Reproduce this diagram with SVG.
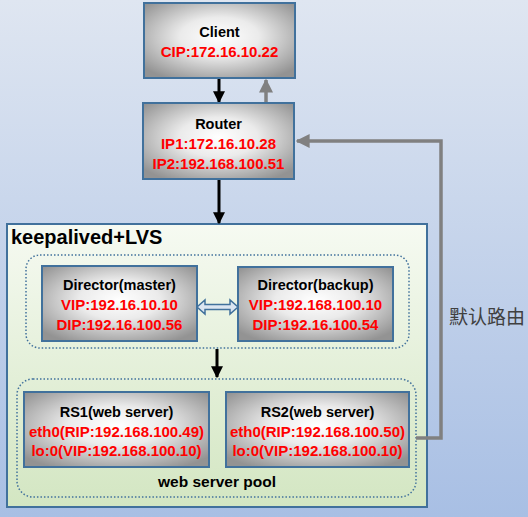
<svg xmlns="http://www.w3.org/2000/svg" width="528" height="517" viewBox="0 0 528 517">
<defs>
<linearGradient id="bg" x1="0" y1="0" x2="0" y2="1">
<stop offset="0" stop-color="#dfe6f1"/>
<stop offset="1" stop-color="#a8bfe4"/>
</linearGradient>
<linearGradient id="lvs" x1="0" y1="0" x2="0" y2="1">
<stop offset="0" stop-color="#f6faf2"/>
<stop offset="1" stop-color="#d3e6c2"/>
</linearGradient>
<radialGradient id="box" cx="50%" cy="45%" r="65%">
<stop offset="0" stop-color="#ffffff"/>
<stop offset="0.4" stop-color="#ebebeb"/>
<stop offset="1" stop-color="#939393"/>
</radialGradient>
<marker id="ab" viewBox="0 0 10 10" refX="9" refY="5" markerWidth="4" markerHeight="4" orient="auto" markerUnits="strokeWidth">
<path d="M0,0 L10,5 L0,10 z" fill="#000"/>
</marker>
<marker id="ag" viewBox="0 0 10 10" refX="9" refY="5" markerWidth="4" markerHeight="4" orient="auto" markerUnits="strokeWidth">
<path d="M0,0 L10,5 L0,10 z" fill="#808080"/>
</marker>
</defs>
<style>
.node{fill:url(#box);stroke:#41719c;stroke-width:2}
.t{font-family:"Liberation Sans",Arial,sans-serif;font-weight:bold;font-size:14.5px;text-anchor:middle;fill:#000}
.r{font-family:"Liberation Sans",Arial,sans-serif;font-weight:bold;font-size:15px;text-anchor:middle;fill:#ff0000}
.dot{fill:none;stroke:#41719c;stroke-width:1.5;stroke-dasharray:1.5 2}
.blk{stroke:#000;stroke-width:3;fill:none}
.gry{stroke:#808080;stroke-width:3.5;fill:none}
</style>
<rect x="0" y="0" width="528" height="517" fill="url(#bg)"/>

<g id="lvs-group">
<rect x="7" y="224" width="420" height="283" fill="url(#lvs)" stroke="#41719c" stroke-width="2"/>
<text x="11" y="244" font-family="'Liberation Sans',Arial,sans-serif" font-weight="bold" font-size="20" fill="#000">keepalived+LVS</text>
<rect class="dot" x="26" y="255" width="383" height="93" rx="14"/>
<rect class="dot" x="17" y="379" width="399" height="118" rx="16"/>
<text class="t" x="217" y="487" style="font-size:15.5px">web server pool</text>
</g>

<g id="connectors">
<line class="blk" x1="219" y1="79" x2="219" y2="102" marker-end="url(#ab)"/>
<line class="gry" x1="266" y1="103" x2="266" y2="80" marker-end="url(#ag)"/>
<line class="blk" x1="219" y1="180" x2="219" y2="223" marker-end="url(#ab)"/>
<line class="blk" x1="217" y1="349" x2="217" y2="377" marker-end="url(#ab)"/>
<polyline class="gry" points="416,438 441,438 441,141 297,141" marker-end="url(#ag)"/>
<path d="M197,307 L205,300 L205,304.5 L230,304.5 L230,300 L238,307 L230,314 L230,309.5 L205,309.5 L205,314 Z" fill="#dbe5f1" stroke="#41719c" stroke-width="1.5"/>
<text x="487" y="324" font-family="'Noto Sans CJK SC',sans-serif" font-size="19" fill="#404040" text-anchor="middle">默认路由</text>
</g>

<g id="client">
<rect class="node" x="144" y="3" width="151" height="75"/>
<text class="t" x="219.5" y="37">Client</text>
<text class="r" x="219.5" y="57">CIP:172.16.10.22</text>
</g>

<g id="router">
<rect class="node" x="143" y="103" width="151" height="76"/>
<text class="t" x="218.5" y="129">Router</text>
<text class="r" x="218.5" y="149">IP1:172.16.10.28</text>
<text class="r" x="218.5" y="169">IP2:192.168.100.51</text>
</g>

<g id="director-master">
<rect class="node" x="42" y="266" width="155" height="75"/>
<text class="t" x="119.5" y="290">Director(master)</text>
<text class="r" x="119.5" y="310">VIP:192.16.10.10</text>
<text class="r" x="119.5" y="330">DIP:192.16.100.56</text>
</g>

<g id="director-backup">
<rect class="node" x="238" y="267" width="155" height="74"/>
<text class="t" x="315.5" y="290">Director(backup)</text>
<text class="r" x="315.5" y="310">VIP:192.168.100.10</text>
<text class="r" x="315.5" y="330">DIP:192.16.100.54</text>
</g>

<g id="rs1">
<rect class="node" x="24" y="392" width="185" height="75"/>
<text class="t" x="116.5" y="417">RS1(web server)</text>
<text class="r" x="116.5" y="437">eth0(RIP:192.168.100.49)</text>
<text class="r" x="116.5" y="456">lo:0(VIP:192.168.100.10)</text>
</g>

<g id="rs2">
<rect class="node" x="226" y="392" width="183" height="75"/>
<text class="t" x="317.5" y="417">RS2(web server)</text>
<text class="r" x="317.5" y="437">eth0(RIP:192.168.100.50)</text>
<text class="r" x="317.5" y="456">lo:0(VIP:192.168.100.10)</text>
</g>
</svg>
